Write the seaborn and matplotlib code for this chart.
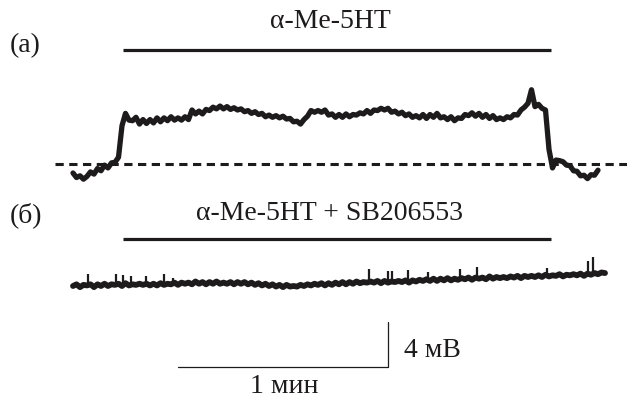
import numpy as np
import pandas as pd
import matplotlib
matplotlib.use("Agg")
import matplotlib.pyplot as plt
import seaborn as sns

# ---------------- data ----------------
# trace (a): membrane potential (mV, relative to resting level), sampled every 1 s
trace_a = [
    -0.8, -1.2, -1.05, -1.35, -1.1, -0.7, -0.9, -0.4, -0.6, -0.1,
    -0.35, 0.1, 0.15, 0.6, 3.4, 4.5, 3.9, 3.85, 4.15, 3.55,
    3.95, 3.6, 3.95, 3.65, 4.1, 3.75, 4.1, 3.85, 4.2, 3.9,
    4.1, 3.9, 4.2, 3.95, 4.8, 4.45, 4.7, 4.45, 4.85, 4.75,
    5.05, 4.9, 5.15, 4.9, 5.1, 4.85, 5.0, 4.8, 4.9, 4.65,
    4.75, 4.5, 4.65, 4.4, 4.5, 4.2, 4.35, 4.15, 4.3, 4.1,
    4.25, 4.0, 4.05, 3.75, 3.8, 3.55, 3.95, 4.25, 4.75, 4.6,
    4.75, 4.6, 4.8, 4.35, 4.45, 4.15, 4.4, 4.15, 4.45, 4.2,
    4.4, 4.35, 4.55, 4.45, 4.75, 4.5, 4.8, 4.75, 4.95, 4.8,
    4.95, 4.6, 4.7, 4.45, 4.6, 4.3, 4.45, 4.15, 4.3, 4.1,
    4.4, 4.05, 4.4, 4.15, 4.5, 4.1, 4.2, 3.95, 4.2, 3.85,
    4.1, 4.05, 4.4, 4.3, 4.55, 4.25, 4.5, 4.15, 4.4, 4.05,
    4.3, 3.95, 4.1, 3.95, 4.2, 4.1, 4.4, 4.35, 4.8, 5.05,
    5.4, 6.6, 5.1, 5.3, 4.95, 4.8, 1.3, -0.35, 0.35, 0.3,
    0.2, -0.1, -0.15, -0.6, -0.65, -1.05, -1.0, -1.3, -0.95, -1.0,
    -0.55,
]
# trace (b): same drug with SB206553 (mV, relative to its start), every 1 s
trace_b = [
    0.0, 0.15, -0.1, 0.1, 0.05, 0.15, -0.1, 0.15, 0.0, 0.2,
    0.0, 0.15, 0.1, 0.2, 0.0, 0.25, 0.05, 0.15, 0.1, 0.2,
    0.1, 0.2, 0.05, 0.2, 0.05, 0.25, 0.1, 0.2, 0.15, 0.3,
    0.1, 0.3, 0.2, 0.3, 0.15, 0.4, 0.2, 0.35, 0.15, 0.35,
    0.2, 0.4, 0.2, 0.3, 0.2, 0.35, 0.15, 0.35, 0.2, 0.35,
    0.15, 0.3, 0.1, 0.25, 0.05, 0.2, 0.0, 0.15, -0.05, 0.1,
    -0.1, 0.1, -0.05, 0.0, -0.05, 0.1, 0.0, 0.15, 0.05, 0.2,
    0.1, 0.25, 0.05, 0.25, 0.1, 0.3, 0.15, 0.35, 0.15, 0.35,
    0.2, 0.4, 0.25, 0.35, 0.3, 0.4, 0.3, 0.45, 0.25, 0.45,
    0.3, 0.4, 0.35, 0.45, 0.35, 0.5, 0.3, 0.5, 0.4, 0.55,
    0.45, 0.6, 0.45, 0.65, 0.45, 0.65, 0.5, 0.7, 0.5, 0.65,
    0.55, 0.7, 0.6, 0.75, 0.55, 0.75, 0.65, 0.75, 0.6, 0.85,
    0.65, 0.8, 0.7, 0.8, 0.7, 0.85, 0.75, 0.9, 0.7, 0.9,
    0.8, 0.9, 0.8, 0.95, 0.8, 1.0, 0.85, 0.95, 0.9, 1.05,
    0.85, 1.0, 0.95, 1.05, 0.95, 1.1, 0.9, 1.1, 1.0, 1.15,
    1.05, 1.2, 1.15,
]
# fast spikes riding on trace (b): time (s) and peak (mV)
spike_t = [4.3, 12.3, 14.3, 16.6, 20.9, 26.0, 28.5, 84.6, 90.0, 91.1,
           95.7, 101.4, 110.6, 115.4, 135.4, 147.1, 148.6]
spike_v = [1.05, 1.1, 0.95, 0.85, 0.9, 1.05, 0.7, 1.5, 1.35, 1.3,
           1.45, 1.25, 1.5, 1.7, 1.6, 2.2, 2.55]

drug_on, drug_off = 14.3, 136.6          # s, application of α-Me-5HT
label_a = "(a)"
label_b = "(б)"
drug_a = "α-Me-5HT"
drug_b = "α-Me-5HT + SB206553"
scale_t, scale_v = 60, 4                 # 1 min, 4 mV
scale_t_label = "1 мин"
scale_v_label = "4 мВ"

# ---------------- layout ----------------
W, H = 627, 402
X0, PX_S = 73, 3.5          # pixel of t=0, px per second
Y0, PX_MV = 165, 11.25      # pixel of 0 mV (trace a), px per mV
OFFSET_B = -(287 - Y0) / PX_MV

def tx(px):
    return (px - X0) / PX_S

def vy(py):
    return (Y0 - py) / PX_MV

INK = "#1e1b1c"

sns.set_style("white")
plt.rcParams["font.family"] = ["Liberation Serif", "DejaVu Serif"]

fig = plt.figure(figsize=(W / 100, H / 100), dpi=100)
ax = fig.add_axes([0, 0, 1, 1])
ax.set_xlim(tx(0), tx(W))
ax.set_ylim(vy(H), vy(0))
ax.axis("off")

df_a = pd.DataFrame({"t": np.arange(len(trace_a)), "v": trace_a})
df_b = pd.DataFrame({"t": np.arange(len(trace_b)), "v": np.array(trace_b) + OFFSET_B})

sns.lineplot(data=df_a, x="t", y="v", ax=ax, color=INK, lw=3.8,
             estimator=None, sort=False, legend=False)
sns.lineplot(data=df_b, x="t", y="v", ax=ax, color=INK, lw=4.2,
             estimator=None, sort=False, legend=False)
base = np.interp(spike_t, df_b["t"], df_b["v"])
ax.vlines(spike_t, base, np.array(spike_v) + OFFSET_B, color=INK, lw=1.6)

# resting level
ax.plot([tx(55), tx(W)], [0, 0], color=INK, lw=2.2, dashes=(2.7, 1.8))

# drug bars
ax.plot([drug_on, drug_off], [vy(51), vy(51)], color=INK, lw=2.3, solid_capstyle="butt")
ax.plot([drug_on, drug_off], [vy(240), vy(240)], color=INK, lw=2.3, solid_capstyle="butt")

# scale bars
sx1 = tx(388)
sx0 = sx1 - scale_t
sy0 = vy(368)
ax.plot([sx0, sx1, sx1], [sy0, sy0, sy0 + scale_v], color=INK, lw=0.9)

fs = 20
def ftext(px, py, s, ha="center"):
    fig.text(px / W, 1 - py / H, s, ha=ha, va="center", fontsize=fs, color=INK)

ftext(10, 46, label_a, ha="left")
ftext(10, 215, label_b, ha="left")
ftext(330, 22, drug_a)
ftext(330, 214, drug_b)
ftext(404, 351, scale_v_label, ha="left")
ftext(284, 387, scale_t_label)

fig.savefig("out.png", dpi=100)
